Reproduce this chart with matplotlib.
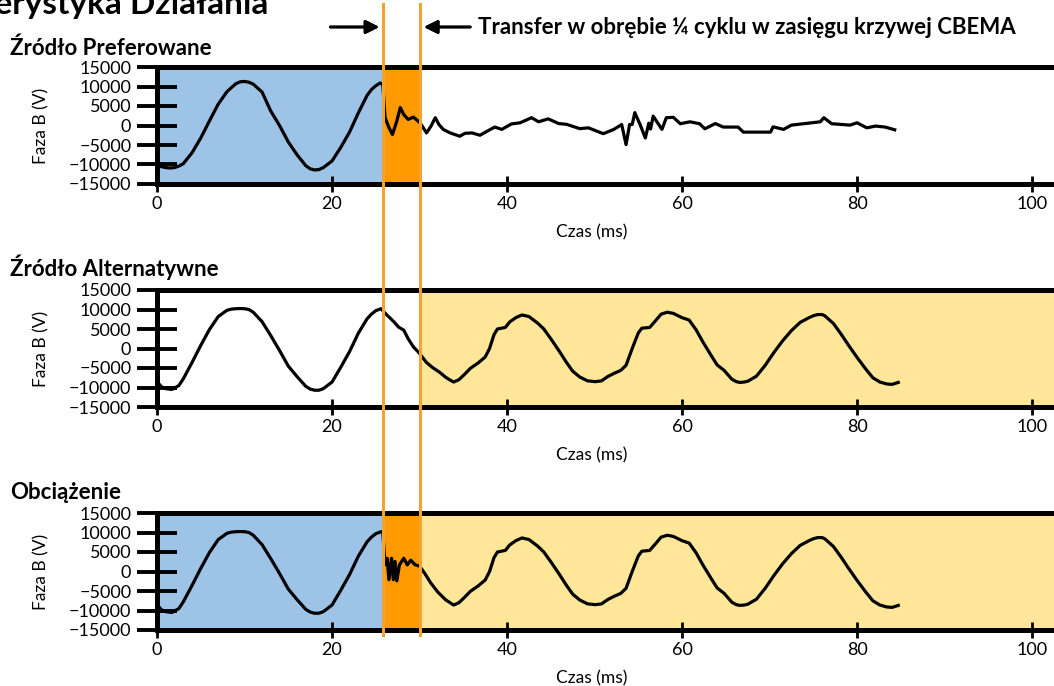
import matplotlib
matplotlib.use("Agg")
import matplotlib.pyplot as plt
from matplotlib.lines import Line2D
from matplotlib.transforms import blended_transform_factory

plt.rcParams['font.family'] = ['Lato', 'DejaVu Sans']

# --- data (ms, V) ---
t_pref = [0, 1, 1.5, 2, 2.5, 3, 4, 5, 6, 7, 8, 9, 9.5, 10, 10.5, 11, 12, 13, 14,
          15, 16, 17, 17.5, 18, 18.5, 19, 20, 21, 22, 23, 24, 24.5, 25, 25.5,
          25.8,
          26.06, 26.5, 26.9, 27.4, 27.8, 28.2, 28.7, 29.3, 30.06, 30.8, 31.3,
          31.8, 32.2, 32.7, 33.5, 34.6, 35.2, 36.0, 36.9, 38.1, 38.6, 39.4,
          40.5, 41.5, 42.8, 43.6, 44.7, 45.9, 46.8, 48.3, 49.3, 51.0, 52.2,
          53.1, 53.6, 54.0, 54.3, 54.6, 55.2, 55.8, 56.2, 56.4, 56.7, 57.7,
          58.2, 59.0, 59.8, 60.9, 62.0, 62.6, 63.8, 64.7, 66.4, 67.0, 70.1,
          70.4, 71.6, 72.5, 75.8, 76.2, 77.1, 79.2, 80.0, 81.1, 82.1, 83.2, 84.3]
v_pref = [-10300, -10800, -10900, -10800, -10400, -9800, -7000, -3200, 1200,
          5500, 8700, 10700, 11200, 11300, 11100, 10600, 8600, 3700, 0, -4200,
          -7500, -10300, -11100, -11400, -11300, -10800, -9100, -5600, -1700,
          3200, 7700, 9200, 10200, 10900, 10500,
          2000, -500, -2300, 1100, 4600, 2800, 1550, 2150, 700, -1900, -200,
          2000, 300, -1000, -1900, -2750, -2000, -1900, -2500, -1000, -400,
          -1000, 400, 700, 2000, 950, 1700, 500, 300, -800, -600, -2100, -1000,
          250, -4900, 250, 250, 3300, 250, -3200, 600, -900, 2400, -1000,
          2000, 2100, 450, 950, 450, -850, 500, -400, -400, -1700, -1700,
          -350, -1000, 100, 950, 2000, 450, 100, 700, -600, -150, -400, -1100]

t_alt = [0, 0.5, 1, 1.7, 2.5, 3, 4, 5, 6, 7, 8, 8.5, 9, 9.5, 10, 10.5, 11, 12,
         13, 14, 15, 16, 17, 17.5, 18, 18.5, 19, 20, 21, 22, 23, 24, 24.5, 25,
         25.6, 26, 27, 27.6, 28.2, 28.7, 29.3, 29.9, 30.8, 31.5, 32.3, 33,
         33.5, 33.9, 34.5, 35.2, 35.8, 36.7, 37.5, 38, 38.5, 38.9, 39.8, 40.3,
         41, 41.7, 42.5, 43.5, 44.2, 45, 46, 46.8, 47.5, 48.3, 49.2, 50.1,
         50.8, 51.5, 52.2, 53, 53.6, 54.3, 55, 55.4, 56.3, 57, 57.6, 58.3, 59,
         60, 60.8, 61.6, 62.4, 63.3, 64, 64.8, 65.7, 66.2, 66.6, 67.1, 67.5,
         68.5, 69.5, 70.5, 71.5, 72.5, 73.5, 74.5, 75, 75.5, 76, 76.3, 77.3,
         78.2, 79, 80, 81, 81.8, 82.6, 83.4, 84, 84.7]
v_alt = [-8500, -9800, -10300, -10500, -9500, -7800, -3600, 800, 4900, 8200,
         9800, 10100, 10200, 10250, 10200, 10000, 9300, 6900, 3300, -500,
         -4500, -7200, -9700, -10400, -10700, -10700, -10300, -8600, -4800,
         -800, 3900, 7600, 8800, 9700, 10200, 9200, 7000, 5500, 4700, 2500,
         400, -1000, -3600, -4900, -6100, -7400, -8100, -8600, -8000, -6500,
         -5100, -3700, -2200, 0, 3500, 5000, 5400, 6800, 7900, 8600, 8200,
         6500, 5000, 2500, -800, -3600, -5800, -7300, -8300, -8500, -8300,
         -7200, -6400, -5600, -4300, 0, 4000, 5200, 5400, 7200, 8800, 9300,
         9000, 7900, 7300, 4800, 1600, -1700, -4200, -5600, -7900, -8500,
         -8700, -8600, -8400, -7100, -4300, -1000, 2000, 4600, 6700, 7900,
         8400, 8700, 8700, 8400, 6400, 3600, 900, -2300, -5300, -7500, -8600,
         -9100, -9200, -8700]

# load trace during the transfer window
t_load_tr = [25.8, 26.06, 26.3, 26.5, 26.8, 27.0, 27.2, 27.4, 27.7, 28.2, 28.6,
             29.0, 29.5, 30.0, 30.6, 31.3, 32.1, 33.0]
v_load_tr = [10000, 1700, 3400, -2100, 3400, -2100, 2600, -2400, 1700, 3400,
             1700, 2900, 1700, 1400, -500, -3000, -5300, -7300]

t_sw1, t_sw2 = 25.8, 30.0
x_max = 102.5
yticks = [-15000, -10000, -5000, 0, 5000, 10000, 15000]
xticks = [0, 20, 40, 60, 80, 100]

BLUE = '#9DC3E6'
ORANGE = '#FF9A00'
YELLOW = '#FFE699'
LINE_OR = '#F2A431'

t_load = [t for t in t_alt if t < 25.7] + t_load_tr + [t for t in t_alt if t > 33.5]
v_load = ([v for t, v in zip(t_alt, v_alt) if t < 25.7] + v_load_tr
          + [v for t, v in zip(t_alt, v_alt) if t > 33.5])

W, H = 1054, 686
fig = plt.figure(figsize=(W / 100, H / 100), dpi=100)


def fx(px):
    return px / W


def fy(py):
    return 1 - py / H


panels = [
    ("Źródło Preferowane", t_pref, v_pref, [BLUE, ORANGE, 'white'], 184, 55),
    ("Źródło Alternatywne", t_alt, v_alt, ['white', 'white', YELLOW], 407, 276),
    ("Obciążenie", t_load, v_load, [BLUE, ORANGE, YELLOW], 630, 499),
]

axes = []
for title, t, v, cols, bot, base in panels:
    ax = fig.add_axes([fx(157), fy(bot), fx(1054 - 157), 117 / H])
    ax.axvspan(0, t_sw1, color=cols[0], lw=0)
    ax.axvspan(t_sw1, t_sw2, color=cols[1], lw=0)
    ax.axvspan(t_sw2, x_max, color=cols[2], lw=0)
    ax.plot(t, v, color='black', lw=2.3, solid_joinstyle='round')
    ax.set_xlim(0, x_max)
    ax.set_ylim(-15000, 15000)
    ax.set_yticks(yticks)
    ax.set_xticks(xticks)
    ax.spines['right'].set_visible(False)
    for s in ['top', 'bottom', 'left']:
        ax.spines[s].set_linewidth(3.6)
    ax.tick_params(axis='y', direction='inout', length=29, width=2.8,
                   labelsize=13, pad=4)
    ax.tick_params(axis='x', direction='inout', length=11, width=2.0,
                   labelsize=13, pad=3)
    ax.set_ylabel("Faza B (V)", fontsize=12.5)
    ax.yaxis.set_label_coords(-0.12, 0.5)
    ax.set_xlabel("Czas (ms)", fontsize=12.5, va='center')
    ax.xaxis.set_label_coords(0.485, -0.41)
    fig.text(fx(10), fy(base), title, fontsize=16, fontweight='bold',
             va='baseline', ha='left')
    axes.append(ax)

# transfer window markers spanning the whole figure
tr = blended_transform_factory(axes[2].transData, fig.transFigure)
for ts in (t_sw1, t_sw2):
    fig.add_artist(Line2D([ts, ts], [fy(635), fy(4)], transform=tr,
                          color=LINE_OR, lw=2.2))

fig.text(fx(268), fy(14), "Charakterystyka Działania", fontsize=24,
         fontweight='bold', ha='right', va='baseline')

ya = fy(27)
fig.add_artist(plt.annotate("", xy=(t_sw1 - 0.4, ya), xytext=(19.8, ya),
                            xycoords=tr, textcoords=tr,
                            arrowprops=dict(arrowstyle='-|>', color='black',
                                            lw=2, mutation_scale=20,
                                            shrinkA=0, shrinkB=0),
                            annotation_clip=False))
fig.add_artist(plt.annotate("", xy=(t_sw2 + 0.5, ya), xytext=(35.8, ya),
                            xycoords=tr, textcoords=tr,
                            arrowprops=dict(arrowstyle='-|>', color='black',
                                            lw=2, mutation_scale=20,
                                            shrinkA=0, shrinkB=0),
                            annotation_clip=False))
fig.text(fx(478), fy(34), "Transfer w obrębie ¼ cyklu w zasięgu krzywej CBEMA",
         fontsize=16, fontweight='bold', ha='left', va='baseline')

fig.savefig("out.png", dpi=100)
